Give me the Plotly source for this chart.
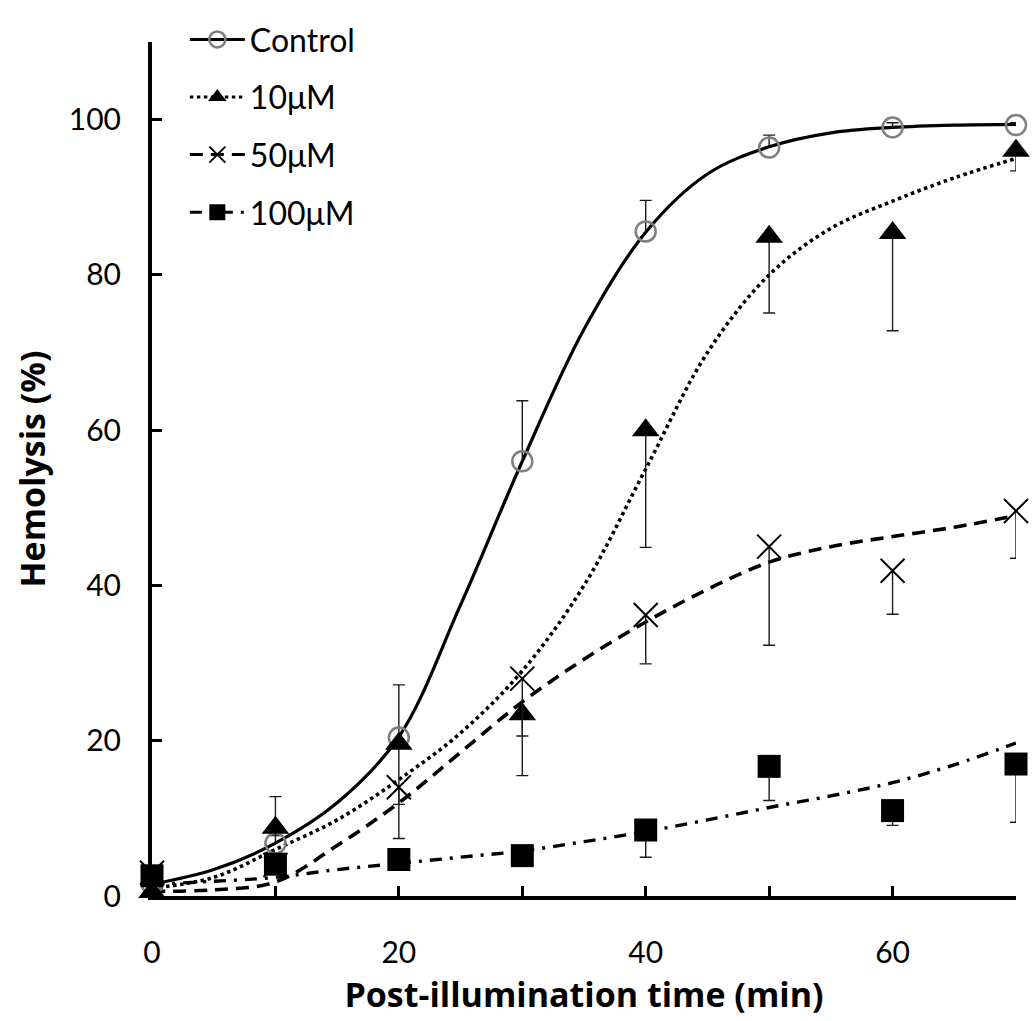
import plotly.graph_objects as go

# ---------------- data ----------------
times = [0, 10, 20, 30, 40, 50, 60, 70]

control = [1.5, 6.8, 20.4, 56.0, 85.6, 96.4, 99.0, 99.3]
control_err_plus = [1.0, 6.0, 6.8, 7.8, 4.0, 1.6, 0.6, 0.3]

um10 = [0.5, 8.8, 19.6, 23.4, 60.0, 84.9, 85.4, 96.0]
um10_err_minus = [0.3, 1.0, 12.2, 7.9, 15.1, 9.8, 12.6, 2.6]

um50 = [3.0, 4.0, 14.0, 28.0, 36.2, 45.0, 41.9, 49.6]
um50_err_minus = [0.5, 0.5, 2.2, 7.4, 6.3, 12.7, 5.6, 6.1]

um100 = [2.6, 4.1, 4.7, 5.2, 8.5, 16.7, 11.0, 17.0]
um100_err_minus = [0.5, 0.5, 0.5, 0.5, 3.5, 4.4, 1.9, 7.5]

# fitted trend curves
fit_t = [0, 5, 10, 15, 20, 25, 30, 35, 40, 45, 50, 55, 60, 65, 70]
control_fit = [1.5, 3.4, 6.8, 12.0, 20.5, 37.5, 56.0, 73.0, 85.5, 93.0, 96.5, 98.3, 99.0, 99.3, 99.4]
um10_fit = [1.0, 2.4, 6.0, 9.8, 15.0, 21.0, 29.0, 40.0, 55.0, 70.0, 80.0, 86.0, 89.5, 92.5, 95.0]
um50_fit = [0.6, 0.8, 1.8, 6.5, 12.0, 18.5, 25.0, 30.5, 35.3, 39.5, 43.0, 45.0, 46.3, 47.5, 49.0]
um100_fit = [1.5, 1.9, 2.4, 3.4, 4.2, 5.0, 5.8, 7.0, 8.3, 9.8, 11.4, 12.9, 14.6, 16.9, 19.7]

series_names = ["Control", "10\u03bcM", "50\u03bcM", "100\u03bcM"]
x_tick_vals = [0, 10, 20, 30, 40, 50, 60, 70]
x_tick_text = ["0", "", "20", "", "40", "", "60", ""]
y_tick_vals = [0, 20, 40, 60, 80, 100]

FONT = "Lato"
TITLE_FONT = "Open Sans"
GRAY = "#7f7f7f"

styles = [
    dict(dash="solid", width=3.2,
         marker=dict(symbol="circle-open", size=20, color=GRAY, line=dict(width=2.5, color=GRAY))),
    dict(dash="3.5px,3.5px", width=3.6,
         marker=dict(symbol="triangle-up", size=24, color="black", line=dict(width=0))),
    dict(dash="13px,8px", width=3.6,
         marker=dict(symbol="x-thin", size=24, color="black", line=dict(width=2, color="black"))),
    dict(dash="12px,8px,3px,8px", width=3.4,
         marker=dict(symbol="square", size=23, color="black", line=dict(width=0))),
]

values = [control, um10, um50, um100]
fits = [control_fit, um10_fit, um50_fit, um100_fit]
errs = [control_err_plus, um10_err_minus, um50_err_minus, um100_err_minus]
err_dir = [+1, -1, -1, -1]

fig = go.Figure()

# trend curves
for name, fit, st in zip(series_names, fits, styles):
    fig.add_trace(go.Scatter(
        x=fit_t, y=fit, mode="lines", showlegend=False, hoverinfo="skip",
        line=dict(color="black", width=st["width"], dash=st["dash"], shape="spline", smoothing=1.0),
        cliponaxis=False))

# error bar caps (zero-length bars at the end of each error)
for vals, err, d in zip(values, errs, err_dir):
    ends = [v + d * e for v, e in zip(vals, err)]
    fig.add_trace(go.Scatter(
        x=times, y=ends, mode="markers", showlegend=False, hoverinfo="skip",
        marker=dict(size=1, color="rgba(0,0,0,0)"),
        error_y=dict(type="data", array=[0] * len(ends), symmetric=True,
                     width=6, thickness=1.4, color="#1a1a1a"),
        cliponaxis=False))

# data points with error bar stems
for name, vals, err, d, st in zip(series_names, values, errs, err_dir, styles):
    zeros = [0] * len(err)
    ey = dict(type="data", symmetric=False, width=0, thickness=1.4, color="#1a1a1a")
    if d > 0:
        ey.update(array=err, arrayminus=zeros)
    else:
        ey.update(array=zeros, arrayminus=err)
    fig.add_trace(go.Scatter(
        x=times, y=vals, mode="markers", name=name, showlegend=False,
        marker=st["marker"], error_y=ey, cliponaxis=False))

# legend entries
for i, (name, st) in enumerate(zip(series_names, styles)):
    fig.add_trace(go.Scatter(
        x=[None], y=[None], mode="lines+markers", name=name, legendgroup=f"g{i}",
        line=dict(color="black", width=min(st["width"], 3), dash=st["dash"]),
        marker=st["marker"]))

fig.update_layout(
    width=1033, height=1021,
    margin=dict(l=152, r=17, t=25, b=122),
    paper_bgcolor="white", plot_bgcolor="white",
    font=dict(family=FONT, size=30, color="black"),
    showlegend=True,
    legend=dict(x=0.038, y=1.035, xanchor="left", yanchor="top",
                traceorder="grouped", tracegroupgap=13, itemwidth=55,
                bgcolor="rgba(0,0,0,0)", font=dict(family=FONT, size=32, color="black")),
    xaxis=dict(range=[0, 70], tickvals=x_tick_vals, ticktext=x_tick_text,
               ticks="inside", ticklen=10, tickwidth=3, tickcolor="black",
               showline=True, linecolor="black", linewidth=4, showgrid=False, zeroline=False,
               ticklabelstandoff=27, layer="below traces",
               tickfont=dict(family=FONT, size=30),
               title=dict(text="Post-illumination time (min)", standoff=16,
                          font=dict(family=TITLE_FONT, size=34, weight="bold"))),
    yaxis=dict(range=[0, 110], tickvals=y_tick_vals,
               ticks="inside", ticklen=10, tickwidth=3, tickcolor="black",
               showline=True, linecolor="black", linewidth=4, showgrid=False, zeroline=False,
               ticklabelstandoff=21, layer="below traces",
               tickfont=dict(family=FONT, size=30),
               title=dict(text="Hemolysis (%)", standoff=14,
                          font=dict(family=TITLE_FONT, size=34, weight="bold"))),
)

fig.write_html("out.html")
